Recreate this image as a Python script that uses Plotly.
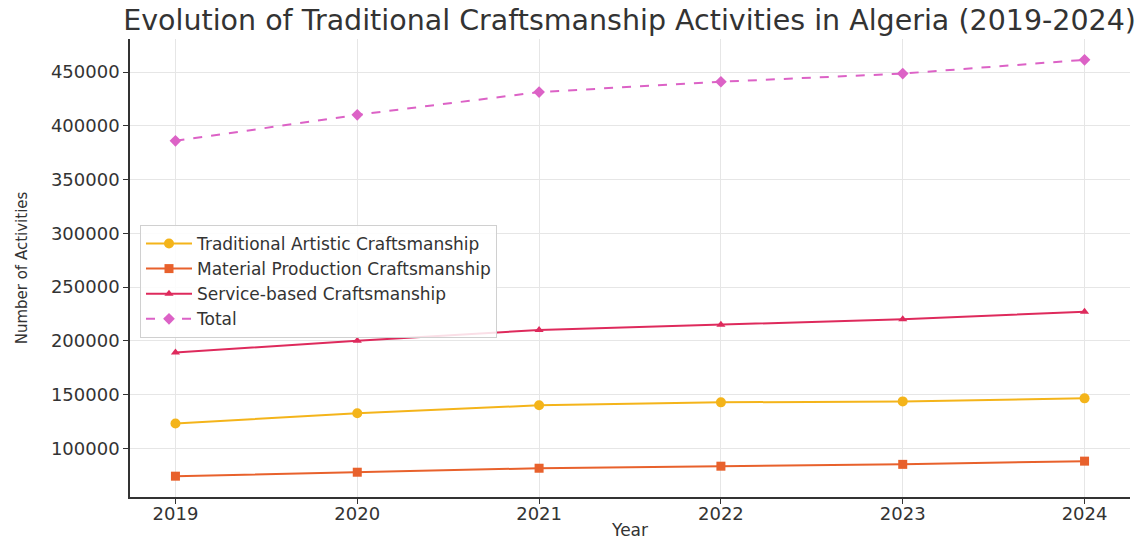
import plotly.graph_objects as go

years = [2019, 2020, 2021, 2022, 2023, 2024]
traditional = [123000, 132500, 140000, 142700, 143600, 146400]
material = [74000, 77700, 81400, 83300, 85000, 88000]
service = [189000, 200000, 210000, 215000, 220000, 227000]
total = [386000, 410200, 431400, 441000, 448600, 461400]

names = ["Traditional Artistic Craftsmanship", "Material Production Craftsmanship",
         "Service-based Craftsmanship", "Total"]
colors = ["#f4b41a", "#e8612c", "#de2a5c", "#dc62c6"]
symbols = ["circle", "square", "triangle-up", "diamond"]
msizes = [10, 9, 8, 9]
dashes = ["solid", "solid", "solid", "dash"]
series = [traditional, material, service, total]

FONT = "DejaVu Sans"
fig = go.Figure()
for n, s, c, sym, ms, d in zip(names, series, colors, symbols, msizes, dashes):
    fig.add_trace(go.Scatter(x=years, y=s, name=n, mode="lines+markers",
                             line=dict(color=c, width=2, dash=d),
                             marker=dict(symbol=sym, size=ms, color=c)))

ymin = min(material); ymax = max(total)
pad = (ymax - ymin) * 0.05

fig.update_layout(
    width=1146, height=540,
    paper_bgcolor="white", plot_bgcolor="white",
    margin=dict(l=130, r=16, t=39, b=43),
    font=dict(family=FONT, color="#333333"),
    title=dict(text="Evolution of Traditional Craftsmanship Activities in Algeria (2019-2024)",
               x=0.5494, xanchor="center", y=0.963, yanchor="middle",
               font=dict(size=28.5, color="#333333", family=FONT)),
    legend=dict(x=0.01, y=0.594, xanchor="left", yanchor="top", itemwidth=46,
                bgcolor="rgba(255,255,255,0.85)", bordercolor="#d0d0d0", borderwidth=1,
                font=dict(size=17, family=FONT, color="#333333")),
    showlegend=True,
)
fig.update_xaxes(range=[2018.75, 2024.25], tickmode="array", tickvals=years,
                 ticktext=[str(y) for y in years], automargin=False,
                 showgrid=True, gridcolor="#e6e6e6", gridwidth=1,
                 showline=True, linecolor="#333333", linewidth=1.5,
                 ticks="outside", ticklen=5, tickcolor="#333333", ticklabelstandoff=-5,
                 tickfont=dict(size=18, family=FONT, color="#333333"),
                 zeroline=False,
                 title=dict(text="Year", font=dict(size=17, family=FONT, color="#333333"), standoff=2))
fig.update_yaxes(range=[ymin - pad, ymax + pad], tickmode="array",
                 tickvals=[100000, 150000, 200000, 250000, 300000, 350000, 400000, 450000],
                 ticktext=["100000", "150000", "200000", "250000", "300000", "350000", "400000", "450000"],
                 automargin=False,
                 showgrid=True, gridcolor="#e6e6e6", gridwidth=1,
                 showline=True, linecolor="#333333", linewidth=1.5,
                 ticks="outside", ticklen=5, tickcolor="#333333",
                 tickfont=dict(size=18, family=FONT, color="#333333"),
                 zeroline=False,
                 title=dict(text="Number of Activities", font=dict(size=15, family=FONT, color="#333333"), standoff=20))

fig.write_html("out.html")
